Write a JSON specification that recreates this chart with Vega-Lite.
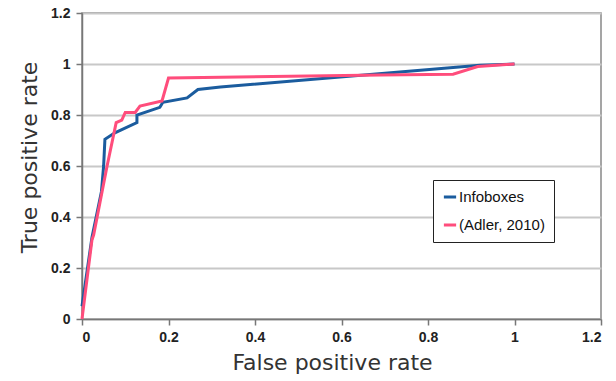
{
  "$schema": "https://vega.github.io/schema/vega-lite/v6.json",
  "width": 519,
  "height": 306,
  "autosize": {"type": "none"},
  "padding": {"left": 82, "top": 13, "right": 15, "bottom": 62},
  "background": "white",
  "config": {
    "view": {"stroke": "#888888", "strokeWidth": 1.5},
    "font": "Liberation Sans"
  },
  "data": {
    "values": [
      {"series": "Infoboxes", "i": 1, "fpr": 0.0, "tpr": 0.05},
      {"series": "Infoboxes", "i": 2, "fpr": 0.023, "tpr": 0.32},
      {"series": "Infoboxes", "i": 3, "fpr": 0.045, "tpr": 0.5},
      {"series": "Infoboxes", "i": 4, "fpr": 0.05, "tpr": 0.6},
      {"series": "Infoboxes", "i": 5, "fpr": 0.053, "tpr": 0.705},
      {"series": "Infoboxes", "i": 6, "fpr": 0.076, "tpr": 0.73},
      {"series": "Infoboxes", "i": 7, "fpr": 0.127, "tpr": 0.77},
      {"series": "Infoboxes", "i": 8, "fpr": 0.127, "tpr": 0.8},
      {"series": "Infoboxes", "i": 9, "fpr": 0.18, "tpr": 0.83},
      {"series": "Infoboxes", "i": 10, "fpr": 0.187, "tpr": 0.85},
      {"series": "Infoboxes", "i": 11, "fpr": 0.243, "tpr": 0.867},
      {"series": "Infoboxes", "i": 12, "fpr": 0.268, "tpr": 0.9},
      {"series": "Infoboxes", "i": 13, "fpr": 0.32, "tpr": 0.91},
      {"series": "Infoboxes", "i": 14, "fpr": 0.92, "tpr": 0.995},
      {"series": "Infoboxes", "i": 15, "fpr": 1.0, "tpr": 1.0},
      {"series": "(Adler, 2010)", "i": 1, "fpr": 0.0, "tpr": 0.0},
      {"series": "(Adler, 2010)", "i": 2, "fpr": 0.023, "tpr": 0.31},
      {"series": "(Adler, 2010)", "i": 3, "fpr": 0.027, "tpr": 0.33},
      {"series": "(Adler, 2010)", "i": 4, "fpr": 0.058, "tpr": 0.6},
      {"series": "(Adler, 2010)", "i": 5, "fpr": 0.079, "tpr": 0.77},
      {"series": "(Adler, 2010)", "i": 6, "fpr": 0.092, "tpr": 0.78},
      {"series": "(Adler, 2010)", "i": 7, "fpr": 0.1, "tpr": 0.81},
      {"series": "(Adler, 2010)", "i": 8, "fpr": 0.123, "tpr": 0.81},
      {"series": "(Adler, 2010)", "i": 9, "fpr": 0.134, "tpr": 0.835},
      {"series": "(Adler, 2010)", "i": 10, "fpr": 0.185, "tpr": 0.855},
      {"series": "(Adler, 2010)", "i": 11, "fpr": 0.2, "tpr": 0.945},
      {"series": "(Adler, 2010)", "i": 12, "fpr": 0.69, "tpr": 0.957},
      {"series": "(Adler, 2010)", "i": 13, "fpr": 0.858, "tpr": 0.96},
      {"series": "(Adler, 2010)", "i": 14, "fpr": 0.915, "tpr": 0.99},
      {"series": "(Adler, 2010)", "i": 15, "fpr": 1.0, "tpr": 1.0}
    ]
  },
  "mark": {"type": "line", "strokeWidth": 3, "interpolate": "linear"},
  "encoding": {
    "x": {
      "field": "fpr",
      "type": "quantitative",
      "scale": {"domain": [0, 1.2], "nice": false},
      "axis": {
        "title": "False positive rate",
        "titleFont": "DejaVu Sans",
        "titleFontSize": 22,
        "titleFontWeight": "normal",
        "titleColor": "#333333",
        "titlePadding": 8,
        "titleX": 250,
        "values": [0, 0.2, 0.4, 0.6, 0.8, 1, 1.2],
        "format": "~g",
        "labelFontSize": 14,
        "labelFontWeight": "bold",
        "labelColor": "#222222",
        "labelPadding": 5,
        "grid": false,
        "domainColor": "#777777",
        "domainWidth": 1.5,
        "tickColor": "#777777",
        "tickSize": 6,
        "tickWidth": 1.5
      }
    },
    "y": {
      "field": "tpr",
      "type": "quantitative",
      "scale": {"domain": [0, 1.2], "nice": false},
      "axis": {
        "title": "True positive rate",
        "titleFont": "DejaVu Sans",
        "titleFontSize": 22,
        "titleFontWeight": "normal",
        "titleColor": "#333333",
        "titlePadding": 9,
        "titleY": 144,
        "values": [0, 0.2, 0.4, 0.6, 0.8, 1, 1.2],
        "format": "~g",
        "labelFontSize": 14,
        "labelFontWeight": "bold",
        "labelColor": "#222222",
        "labelPadding": 6,
        "grid": true,
        "gridColor": "#c8c8c8",
        "gridWidth": 2,
        "domainColor": "#777777",
        "domainWidth": 1.5,
        "tickColor": "#777777",
        "tickSize": 6,
        "tickWidth": 1.5
      }
    },
    "color": {
      "field": "series",
      "type": "nominal",
      "scale": {"domain": ["Infoboxes", "(Adler, 2010)"], "range": ["#1b5c9e", "#ff4d7c"]},
      "legend": {
        "title": null,
        "orient": "none",
        "legendX": 351,
        "legendY": 167,
        "symbolType": "stroke",
        "symbolSize": 150,
        "symbolStrokeWidth": 3,
        "labelFontSize": 15,
        "labelColor": "#111111",
        "labelOffset": 1,
        "rowPadding": 12,
        "padding": 9,
        "strokeColor": "#222222",
        "fillColor": "white"
      }
    },
    "order": {"field": "i", "type": "quantitative"}
  }
}
